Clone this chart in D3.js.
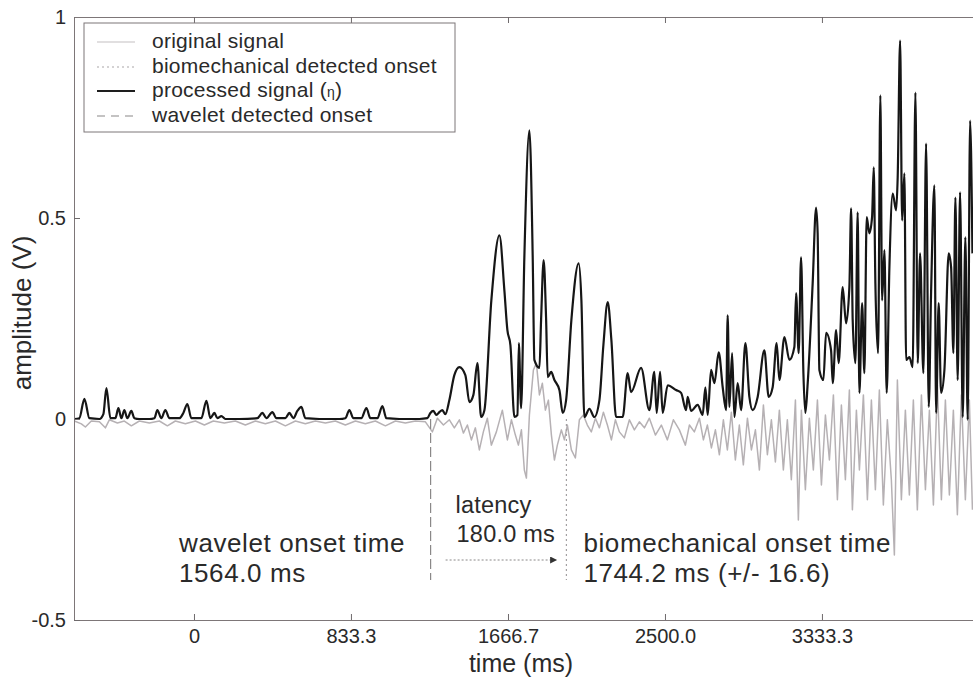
<!DOCTYPE html>
<html>
<head>
<meta charset="utf-8">
<script src="https://cdn.jsdelivr.net/npm/d3@7"></script>
<style>
  html, body { margin: 0; padding: 0; background: #fff; }
  svg { display: block; font-family: "Liberation Sans", Arial, Helvetica, sans-serif; }
</style>
</head>
<body>
<svg id="chart" width="973" height="677"></svg>
<script>
// Time axis: tick positions (ms) and the labels printed under them
const xTickValues = [1250, 1458.3, 1666.7, 1875, 2083.3];
const xTickLabels = ["0", "833.3", "1666.7", "2500.0", "3333.3"];
const yTickValues = [-0.5, 0, 0.5, 1];
const yTickLabels = ["-0.5", "0", "0.5", "1"];

// Onset markers (ms)
const waveletOnset = 1564.0;
const biomechOnset = 1744.2;
const biomechSpread = 16.6;
const latencyMs = 180.0;

// processed signal (eta): [time ms, amplitude V]
const processedSignal = [
  [1091.3,0],[1097.9,.002],[1104.6,.050],[1111.2,.002],[1124.5,0],[1129.8,.012],[1133.8,.077],[1139.1,.002],
  [1145.7,.002],[1149.7,.027],[1153.7,.002],[1157.6,.022],[1161.6,.002],[1166.9,.020],[1170.9,.002],[1177.5,0],
  [1190.8,0],[1197.5,.002],[1201.4,.022],[1206.7,.002],[1212.0,.022],[1217.4,.002],[1230.6,.002],[1235.9,.015],
  [1241.2,.037],[1246.5,.002],[1259.8,.002],[1266.5,.045],[1271.8,.002],[1277.1,.015],[1281.1,.002],[1286.4,.007],
  [1291.7,0],[1310.2,0],[1334.1,.002],[1340.8,.015],[1346.1,.002],[1354.0,.017],[1359.3,.002],[1371.3,.002],
  [1376.6,.015],[1381.9,.002],[1387.2,.020],[1392.5,.030],[1397.8,.002],[1416.4,0],[1442.9,0],[1450.9,.002],
  [1456.2,.022],[1461.5,.002],[1472.1,.002],[1478.8,.027],[1484.1,.002],[1493.4,.002],[1500.0,.032],[1505.3,.002],
  [1522.6,0],[1549.1,0],[1559.7,.002],[1563.7,.015],[1567.7,.020],[1571.7,.010],[1575.6,.017],[1579.6,.022],
  [1583.6,.012],[1588.9,.047],[1595.5,.109],[1602.2,.129],[1610.1,.109],[1615.5,.042],[1620.8,.060],[1626.1,.139],
  [1631.0,.005],[1635.4,.022],[1644.6,.295],[1655.3,.457],[1661.9,.320],[1665.9,.221],[1669.9,.184],[1675.2,.005],
  [1679.2,.010],[1681.1,.189],[1684.1,.027],[1688.4,.402],[1695.1,.718],[1699.5,.402],[1701.7,.147],[1708.4,.127],
  [1710.6,.246],[1714.0,.395],[1717.2,.253],[1719.4,.104],[1723.9,.117],[1728.3,.097],[1734.9,.072],[1739.3,.015],
  [1743.8,.047],[1750.8,.246],[1760.5,.387],[1764.1,.295],[1768.1,.005],[1774.7,.025],[1781.3,.005],[1788.0,.047],
  [1793.3,.184],[1799.0,.291],[1803.9,.196],[1810.1,.005],[1818.9,.005],[1825.5,.114],[1830.0,.067],[1843.3,.127],
  [1854.3,.022],[1860.9,.117],[1864.0,.015],[1868.5,.117],[1872.0,.015],[1878.6,.084],[1889.7,.072],[1896.4,.065],
  [1903.0,.022],[1905.1,.055],[1909.7,.020],[1918.4,.035],[1925.0,.010],[1928.6,.079],[1931.7,.010],[1936.2,.122],
  [1940.6,.089],[1946.3,.166],[1951.6,.079],[1956.1,.022],[1958.2,.258],[1960.5,.030],[1964.1,.164],[1967.1,.005],
  [1971.5,.089],[1976.0,.022],[1981.7,.189],[1987.0,.055],[1991.4,.022],[1998.0,.055],[2006.9,.171],[2012.6,.055],
  [2017.9,.079],[2023.2,.189],[2026.8,.097],[2033.5,.204],[2040.1,.147],[2046.7,.179],[2049.0,.313],[2052.4,.164],
  [2055.6,.402],[2058.7,.114],[2061.3,.015],[2064.4,.089],[2071.0,.338],[2075.5,.526],[2077.6,.462],[2079.9,.122],
  [2085.2,.097],[2088.8,.214],[2095.4,.171],[2097.6,.089],[2102.1,.221],[2105.5,.139],[2110.8,.328],[2115.3,.238],
  [2119.7,.328],[2122.0,.524],[2124.1,.246],[2127.7,.139],[2130.7,.514],[2133.0,.065],[2136.6,.288],[2139.6,.114],
  [2142.7,.502],[2146.2,.462],[2149.8,.502],[2152.0,.626],[2154.2,.338],[2157.8,.164],[2160.8,.805],[2163.1,.295],
  [2166.2,.420],[2169.2,.065],[2172.8,.377],[2177.2,.561],[2181.7,.519],[2183.8,.601],[2187.0,.941],[2189.7,.494],
  [2192.7,.611],[2195.0,.147],[2199.3,.154],[2203.7,.129],[2207.3,.812],[2210.4,.139],[2213.5,.412],[2217.9,.114],
  [2221.5,.685],[2225.0,.030],[2228.1,.313],[2232.5,.581],[2234.8,.015],[2238.2,.288],[2241.4,.065],[2245.8,.122],
  [2251.5,.412],[2254.7,.377],[2257.7,.164],[2260.4,.551],[2263.4,.097],[2266.6,.564],[2270.1,.005],[2273.6,.452],
  [2276.7,-.002],[2279.9,.742],[2283.0,.412]
];

// original signal: [time ms, amplitude V]
const originalSignal = [
  [1091.3,-.005],[1100.6,-.012],[1105.9,-.020],[1113.8,-.005],[1124.5,-.007],[1132.4,-.022],[1137.7,-.002],[1148.4,-.010],
  [1157.6,-.005],[1166.9,-.017],[1177.5,-.005],[1190.8,-.010],[1204.1,-.005],[1214.7,-.017],[1225.3,-.005],[1238.6,-.012],
  [1251.9,-.005],[1263.8,-.015],[1275.7,-.005],[1290.3,-.010],[1304.9,-.005],[1318.2,-.015],[1331.5,-.005],[1344.7,-.012],
  [1358.0,-.005],[1371.3,-.017],[1384.6,-.005],[1397.8,-.012],[1411.1,-.005],[1424.4,-.010],[1437.6,-.005],[1450.9,-.015],
  [1464.2,-.005],[1477.4,-.012],[1490.7,-.005],[1504.0,-.017],[1517.3,-.005],[1530.5,-.010],[1543.8,-.005],[1557.1,-.007],
  [1566.4,-.032],[1573.0,.002],[1581.0,-.015],[1588.9,-.002],[1595.5,-.022],[1602.2,-.002],[1607.5,-.035],[1612.8,-.015],
  [1618.1,-.052],[1623.4,-.022],[1628.7,-.077],[1634.0,-.032],[1639.3,.002],[1644.6,-.065],[1651.3,-.032],[1659.2,.022],
  [1665.9,-.052],[1671.2,-.002],[1676.5,-.040],[1680.5,-.065],[1684.5,-.027],[1688.4,-.127],[1691.1,-.147],[1695.1,.010],
  [1700.4,.122],[1704.4,.139],[1708.4,.060],[1712.3,.089],[1716.3,.022],[1720.3,.047],[1724.3,-.040],[1728.3,-.102],
  [1732.2,-.065],[1737.5,-.027],[1741.5,-.052],[1745.5,-.015],[1750.8,-.077],[1756.1,-.097],[1761.4,-.002],[1766.7,.010],
  [1772.0,-.015],[1777.3,-.032],[1782.7,.002],[1788.0,-.022],[1793.3,.017],[1798.6,-.015],[1803.9,-.052],[1809.2,-.002],
  [1814.5,-.032],[1821.1,-.047],[1827.8,-.002],[1834.4,-.027],[1841.0,-.007],[1847.7,-.022],[1854.3,.002],[1862.3,-.040],
  [1870.2,-.015],[1878.2,-.052],[1886.2,-.002],[1894.1,-.027],[1902.1,-.065],[1907.4,-.015],[1914.0,-.032],[1920.7,.002],
  [1926.0,-.052],[1931.3,-.015],[1936.6,-.072],[1941.9,-.027],[1947.2,-.089],[1952.5,-.002],[1957.8,-.077],[1963.1,.017],
  [1968.4,-.102],[1973.7,-.015],[1979.0,-.114],[1984.4,.002],[1989.7,-.077],[1995.0,-.027],[2000.3,-.127],[2005.6,.035],
  [2010.9,-.089],[2016.2,-.002],[2021.5,-.107],[2026.8,.022],[2032.1,-.127],[2037.4,-.002],[2042.7,-.151],[2048.1,.047],
  [2052.0,-.251],[2056.0,.022],[2061.3,-.176],[2066.6,.002],[2071.9,-.127],[2077.3,.047],[2082.6,-.164],[2087.9,.010],
  [2093.2,-.102],[2098.5,.060],[2103.8,-.201],[2109.1,.035],[2114.4,-.151],[2119.7,.072],[2123.7,-.226],[2129.0,.022],
  [2133.0,-.127],[2138.3,.060],[2143.6,-.201],[2148.9,.047],[2154.2,-.176],[2159.5,.072],[2164.8,-.214],[2170.1,-.002],
  [2175.4,-.151],[2179.4,-.338],[2183.4,.097],[2188.7,-.201],[2194.0,.022],[2199.3,-.189],[2204.6,.047],[2209.9,-.226],
  [2215.3,.060],[2220.6,-.176],[2225.9,.022],[2231.2,-.214],[2236.5,.084],[2241.8,-.201],[2247.1,.047],[2252.4,-.189],
  [2257.7,.022],[2263.0,-.238],[2268.3,.060],[2273.6,-.201],[2278.9,.047],[2283.0,-.226]
];

const legendItems = [
  { label: "original signal", stroke: "#c4c0c2", width: 1.2, dash: null },
  { label: "biomechanical detected onset", stroke: "#a9a6a8", width: 1.2, dash: "2,3" },
  { label: "processed signal ", eta: true, stroke: "#1e1e1e", width: 2, dash: null },
  { label: "wavelet detected onset", stroke: "#8a8888", width: 1.2, dash: "8,6" }
];

const svg = d3.select("#chart");
const plot = { left: 74, top: 17, bottom: 620 };

const x = d3.scaleLinear().domain([1090.8, 2310]).range([plot.left, plot.left + (2310 - 1090.8) * 0.7536]);
const y = d3.scaleLinear().domain([-0.5, 1]).range([plot.bottom, plot.top]);
const right = x.range()[1];

svg.append("rect").attr("width", 973).attr("height", 677).attr("fill", "#fff");

const defs = svg.append("defs");
defs.append("clipPath").attr("id", "plotClip")
  .append("rect").attr("x", plot.left).attr("y", plot.top)
  .attr("width", right - plot.left).attr("height", plot.bottom - plot.top);

const smoothLine = d3.line().x(d => x(d[0])).y(d => y(d[1])).curve(d3.curveMonotoneX);
const rawLine = d3.line().x(d => x(d[0])).y(d => y(d[1]));

const signals = svg.append("g").attr("clip-path", "url(#plotClip)");
signals.append("path").datum(originalSignal)
  .attr("d", rawLine).attr("fill", "none")
  .attr("stroke", "#b6b1b4").attr("stroke-width", 1.5).attr("stroke-linejoin", "round");
signals.append("path").datum(processedSignal)
  .attr("d", smoothLine).attr("fill", "none")
  .attr("stroke", "#161616").attr("stroke-width", 2.2).attr("stroke-linejoin", "round");

// onset markers
const markerBottom = 580;
svg.append("line")
  .attr("x1", x(waveletOnset)).attr("x2", x(waveletOnset))
  .attr("y1", y(0)).attr("y2", markerBottom)
  .attr("stroke", "#8a8888").attr("stroke-width", 1.2).attr("stroke-dasharray", "10,4");
svg.append("line")
  .attr("x1", x(biomechOnset)).attr("x2", x(biomechOnset))
  .attr("y1", y(0)).attr("y2", markerBottom)
  .attr("stroke", "#a3a0a2").attr("stroke-width", 1.2).attr("stroke-dasharray", "2,3");

// latency arrow
defs.append("marker")
  .attr("id", "arrowHead").attr("viewBox", "0 0 10 10")
  .attr("refX", 9).attr("refY", 5).attr("markerWidth", 9).attr("markerHeight", 7)
  .attr("markerUnits", "userSpaceOnUse").attr("orient", "auto")
  .append("path").attr("d", "M0,0 L10,5 L0,10 Z").attr("fill", "#333");
svg.append("line")
  .attr("x1", x(waveletOnset) + 15).attr("x2", x(biomechOnset) - 10)
  .attr("y1", 560).attr("y2", 560)
  .attr("stroke", "#8a8888").attr("stroke-width", 1).attr("stroke-dasharray", "2,2")
  .attr("marker-end", "url(#arrowHead)");

// axes
const xAxis = svg.append("g").attr("transform", `translate(0,${plot.bottom})`)
  .call(d3.axisBottom(x).tickValues(xTickValues).tickFormat((d, i) => xTickLabels[i])
    .tickSizeInner(-6).tickSizeOuter(0).tickPadding(9));
const yAxis = svg.append("g").attr("transform", `translate(${plot.left},0)`)
  .call(d3.axisLeft(y).tickValues(yTickValues).tickFormat((d, i) => yTickLabels[i])
    .tickSizeInner(-6).tickSizeOuter(0).tickPadding(8));
const topTicks = svg.append("g").attr("transform", `translate(0,${plot.top})`)
  .call(d3.axisTop(x).tickValues(xTickValues).tickFormat("").tickSizeInner(-6).tickSizeOuter(0));

[xAxis, yAxis, topTicks].forEach(g => {
  g.selectAll(".domain").attr("stroke", "#7d7678").attr("stroke-width", 1);
  g.selectAll(".tick line").attr("stroke", "#6f6a6c");
  g.selectAll("text").attr("fill", "#2a2a2a").attr("font-size", 20)
    .attr("font-family", "'Liberation Sans', Arial, sans-serif");
});

// axis titles
svg.append("text").attr("x", 521).attr("y", 672).attr("text-anchor", "middle")
  .attr("font-size", 25).attr("fill", "#2a2a2a").text("time (ms)");
svg.append("text").attr("transform", "translate(31,313) rotate(-90)").attr("text-anchor", "middle")
  .attr("font-size", 26).attr("fill", "#2a2a2a").text("amplitude (V)");

// legend
const legend = svg.append("g");
legend.append("rect").attr("x", 84).attr("y", 23).attr("width", 371).attr("height", 109)
  .attr("fill", "#fff").attr("stroke", "#7d7678").attr("stroke-width", 1);
const rowLine = [42, 67, 91, 116];
const rowText = [48, 73, 97, 122];
legendItems.forEach((it, i) => {
  legend.append("line").attr("x1", 97).attr("x2", 135).attr("y1", rowLine[i]).attr("y2", rowLine[i])
    .attr("stroke", it.stroke).attr("stroke-width", it.width)
    .attr("stroke-dasharray", it.dash);
  const t = legend.append("text").attr("x", 152).attr("y", rowText[i])
    .attr("font-size", 21).attr("letter-spacing", 0.25).attr("fill", "#2a2a2a").text(it.label);
  if (it.eta) {
    t.append("tspan").text("(");
    t.append("tspan").attr("font-size", 14).text("η");
    t.append("tspan").text(")");
  }
});

// annotations
const note = (tx, ty, size, spacing, str) => svg.append("text").attr("x", tx).attr("y", ty)
  .attr("font-size", size).attr("letter-spacing", spacing).attr("fill", "#2a2a2a").text(str);
note(179, 552, 26, 0.6, "wavelet onset time");
note(179, 582, 26, 0.6, `${waveletOnset.toFixed(1)} ms`);
note(x(waveletOnset) + 25, 513, 23.5, 0.2, "latency");
note(x(waveletOnset) + 26, 542, 23.5, 0.2, `${latencyMs.toFixed(1)} ms`);
note(x(biomechOnset) + 17, 552, 26, 0.6, "biomechanical onset time");
note(x(biomechOnset) + 17, 582, 26, 0.6, `${biomechOnset.toFixed(1)} ms (+/- ${biomechSpread.toFixed(1)})`);
</script>
</body>
</html>
